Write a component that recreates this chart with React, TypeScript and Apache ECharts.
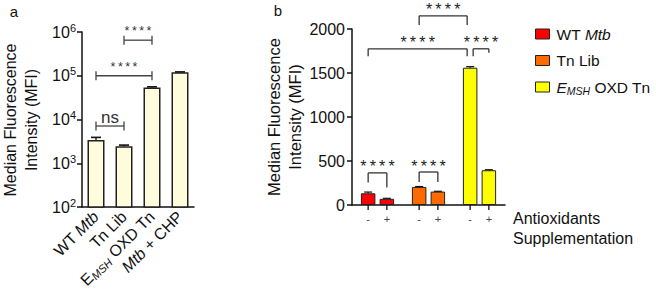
import React, { useEffect, useRef } from 'react';
import * as echarts from 'echarts';

const FONT = '"Liberation Sans", Arial, Helvetica, sans-serif';
const TS = '\u2009';

// ---------- Panel a ----------
const catsA = ['WT Mtb', 'Tn Lib', 'EMSH OXD Tn', 'Mtb + CHP'];
const labelsA = ['WT {i|Mtb}', 'Tn Lib', 'E{sub|MSH} OXD Tn', '{i|Mtb} + CHP'];
const valuesA = [3400, 2450, 54000, 120000];
const errorsA = [500, 150, 1800, 2500];
const STARS = ['*', '*', '*', '*'].join(TS);
const bracketsA = [
  { from: 0, to: 1, y: 7100, text: 'ns', size: 17 },
  { from: 0, to: 2, y: 100000, text: STARS, size: 12.5 },
  { from: 1, to: 2, y: 650000, text: STARS, size: 12.5 },
];

// ---------- Panel b ----------
const groupsB = ['WT Mtb', 'Tn Lib', 'EMSH OXD Tn'];
const legendLabelsB = ['WT {i|Mtb}', 'Tn Lib', '{i|E}{sub|MSH} OXD Tn'];
const colorsB = ['#FF0000', '#FF6A00', '#FFFF00'];
const treatB = ['-', '+'];
const valuesMinus = [133, 205, 1560];
const valuesPlus = [70, 152, 395];
const errMinus = [14, 5, 12];
const errPlus = [6, 4, 6];
const bracketsB = [
  { from: [0, 0], to: [0, 1], y: 365, legs: [255, 200], text: STARS, nudge: [0, 0] },
  { from: [1, 0], to: [1, 1], y: 375, legs: [262, 262], text: STARS, nudge: [0, 0] },
  { from: [0, 0], to: [2, 0], y: 1775, legs: [1690, 1690], text: STARS, nudge: [0, -3] },
  { from: [2, 0], to: [2, 1], y: 1775, legs: [1690, 1730], text: STARS, nudge: [3, 0] },
  { from: [1, 0], to: [2, 0], y: 2150, legs: [2045, 2045], text: STARS, nudge: [0, -3] },
];

const BW = 14.5;
const GAP = 4.2;
const OFF = (BW + GAP) / 2;

const AXIS = { color: '#111', width: 1.5 };

function txt(text: string, x: number, y: number, size: number, fill: string, align = 'center', valign = 'middle', extra: any = {}) {
  return {
    type: 'text',
    x,
    y,
    style: {
      text,
      fill,
      textFill: fill,
      fontSize: size,
      fontFamily: FONT,
      align,
      verticalAlign: valign,
      textAlign: align,
      textVerticalAlign: valign,
      ...extra,
    },
  };
}

function buildOption() {
  const errDataA = valuesA.map((v, i) => [i, v, v + errorsA[i]]);
  const bracketDataA = bracketsA.map((b, i) => [b.from, i, b.y]);
  const slotData: number[][] = [];
  groupsB.forEach((_, g) => {
    slotData.push([g, 0, valuesMinus[g], valuesMinus[g] + errMinus[g]]);
    slotData.push([g, 1, valuesPlus[g], valuesPlus[g] + errPlus[g]]);
  });
  const bracketDataB = bracketsB.map((b, i) => [b.from[0], i, b.y]);

  const slotX = (api: any, g: number, s: number) => api.coord([g, 0])[0] + (s === 0 ? -OFF : OFF);

  return {
    animation: false,
    textStyle: { fontFamily: FONT, color: '#111' },
    grid: [
      { left: 82, top: 32, width: 112, height: 175 },
      { left: 352, top: 29, width: 153, height: 176 },
    ],
    legend: {
      orient: 'vertical',
      left: 530,
      top: 19,
      itemWidth: 14,
      itemHeight: 10,
      itemGap: 6.5,
      icon: 'rect',
      data: groupsB.map((n, i) => ({
        name: n,
        icon: 'rect',
        itemStyle: { color: colorsB[i], borderColor: '#222', borderWidth: 1 },
      })),
      formatter: (name: string) => legendLabelsB[groupsB.indexOf(name)],
      textStyle: {
        fontSize: 15.5,
        color: '#111',
        fontFamily: FONT,
        lineHeight: 20,
        padding: [0, 0, 0, 2],
        rich: {
          i: { fontSize: 15.5, fontStyle: 'italic', fontFamily: FONT, color: '#111' },
          sub: { fontSize: 10.5, fontStyle: 'italic', fontFamily: FONT, color: '#111', padding: [7, 0, 0, 0], lineHeight: 12 },
        },
      },
    },
    xAxis: [
      {
        type: 'category',
        gridIndex: 0,
        data: catsA,
        axisLine: { lineStyle: AXIS },
        axisTick: { alignWithLabel: true, length: 5, lineStyle: AXIS },
        axisLabel: {
          rotate: 45,
          margin: 7,
          fontSize: 16,
          color: '#111',
          fontFamily: FONT,
          interval: 0,
          formatter: (_v: string, i: number) => labelsA[i],
          rich: {
            i: { fontSize: 16, fontStyle: 'italic', fontFamily: FONT, color: '#111' },
            sub: { fontSize: 11, fontStyle: 'italic', fontFamily: FONT, color: '#111', padding: [7, 0, 0, 0], lineHeight: 12 },
          },
        },
      },
      {
        type: 'category',
        gridIndex: 1,
        data: groupsB,
        axisLine: { lineStyle: AXIS },
        axisTick: { show: false },
        axisLabel: { show: false },
      },
    ],
    yAxis: [
      {
        type: 'log',
        logBase: 10,
        gridIndex: 0,
        min: 100,
        max: 1000000,
        axisLine: { show: true, lineStyle: AXIS },
        axisTick: { show: true, length: 5, lineStyle: AXIS },
        splitLine: { show: false },
        axisLabel: {
          margin: 6,
          fontSize: 16,
          color: '#111',
          fontFamily: FONT,
          formatter: (v: number) => `{b|10}{s|${Math.round(Math.log10(v))}}`,
          rich: {
            b: { fontSize: 16, fontFamily: FONT, color: '#111' },
            s: { fontSize: 11, fontFamily: FONT, color: '#111', padding: [0, 0, 9, 0], lineHeight: 12 },
          },
        },
      },
      {
        type: 'value',
        gridIndex: 1,
        min: 0,
        max: 2000,
        interval: 500,
        axisLine: { show: true, lineStyle: AXIS },
        axisTick: { show: true, length: 5, lineStyle: AXIS },
        splitLine: { show: false },
        axisLabel: { margin: 7, fontSize: 16, color: '#111', fontFamily: FONT, formatter: (v: number) => String(v) },
      },
    ],
    series: [
      {
        type: 'bar',
        xAxisIndex: 0,
        yAxisIndex: 0,
        data: valuesA,
        barWidth: 17,
        itemStyle: { color: '#FFFCDC', borderColor: '#222', borderWidth: 1.5 },
      },
      {
        type: 'custom',
        xAxisIndex: 0,
        yAxisIndex: 0,
        data: errDataA,
        encode: { x: 0, y: [1, 2] },
        z: 5,
        renderItem: (_p: any, api: any) => {
          const i = api.value(0);
          const p0 = api.coord([i, api.value(1)]);
          const p1 = api.coord([i, api.value(2)]);
          return {
            type: 'group',
            children: [
              { type: 'line', shape: { x1: p0[0], y1: p0[1], x2: p1[0], y2: p1[1] }, style: { stroke: '#111', lineWidth: 1.3 } },
              { type: 'line', shape: { x1: p1[0] - 5, y1: p1[1], x2: p1[0] + 5, y2: p1[1] }, style: { stroke: '#111', lineWidth: 1.6 } },
            ],
          };
        },
      },
      {
        type: 'custom',
        xAxisIndex: 0,
        yAxisIndex: 0,
        data: bracketDataA,
        encode: { x: 0, y: 2 },
        z: 5,
        clip: false,
        renderItem: (p: any, api: any) => {
          const b = bracketsA[p.dataIndex];
          const a1 = api.coord([b.from, b.y]);
          const a2 = api.coord([b.to, b.y]);
          const st = { stroke: '#444', lineWidth: 1.3 };
          return {
            type: 'group',
            children: [
              { type: 'line', shape: { x1: a1[0], y1: a1[1], x2: a2[0], y2: a2[1] }, style: st },
              { type: 'line', shape: { x1: a1[0], y1: a1[1] - 4.5, x2: a1[0], y2: a1[1] + 4.5 }, style: st },
              { type: 'line', shape: { x1: a2[0], y1: a2[1] - 4.5, x2: a2[0], y2: a2[1] + 4.5 }, style: st },
              txt(b.text, (a1[0] + a2[0]) / 2, a1[1] - 9, b.size, '#333'),
            ],
          };
        },
      },
      {
        type: 'bar',
        name: 'minus',
        xAxisIndex: 1,
        yAxisIndex: 1,
        data: valuesMinus,
        barWidth: BW,
        barGap: `${(GAP / BW) * 100}%`,
        itemStyle: { color: (p: any) => colorsB[p.dataIndex], borderColor: '#222', borderWidth: 1 },
      },
      {
        type: 'bar',
        name: 'plus',
        xAxisIndex: 1,
        yAxisIndex: 1,
        data: valuesPlus,
        barWidth: BW,
        barGap: `${(GAP / BW) * 100}%`,
        itemStyle: { color: (p: any) => colorsB[p.dataIndex], borderColor: '#222', borderWidth: 1 },
      },
      {
        type: 'custom',
        xAxisIndex: 1,
        yAxisIndex: 1,
        data: slotData,
        encode: { x: 0, y: [2, 3] },
        z: 5,
        clip: false,
        renderItem: (_p: any, api: any) => {
          const g = api.value(0);
          const s = api.value(1);
          const x = slotX(api, g, s);
          const y0 = api.coord([g, 0])[1];
          const yv = api.coord([g, api.value(2)])[1];
          const yt = api.coord([g, api.value(3)])[1];
          const st = { stroke: '#111', lineWidth: 1.2 };
          return {
            type: 'group',
            children: [
              { type: 'line', shape: { x1: x, y1: yv, x2: x, y2: yt }, style: st },
              { type: 'line', shape: { x1: x - 4, y1: yt, x2: x + 4, y2: yt }, style: st },
              { type: 'line', shape: { x1: x, y1: y0, x2: x, y2: y0 + 5 }, style: { stroke: '#111', lineWidth: 1.3 } },
              txt(treatB[s], x, y0 + 14, 11, '#444'),
            ],
          };
        },
      },
      {
        type: 'custom',
        xAxisIndex: 1,
        yAxisIndex: 1,
        data: bracketDataB,
        encode: { x: 0, y: 2 },
        z: 5,
        clip: false,
        renderItem: (p: any, api: any) => {
          const b = bracketsB[p.dataIndex];
          const x1 = slotX(api, b.from[0], b.from[1]) + b.nudge[0];
          const x2 = slotX(api, b.to[0], b.to[1]) + b.nudge[1];
          const y = api.coord([0, b.y])[1];
          const l1 = api.coord([0, b.legs[0]])[1];
          const l2 = api.coord([0, b.legs[1]])[1];
          const st = { stroke: '#333', lineWidth: 1.3 };
          return {
            type: 'group',
            children: [
              { type: 'line', shape: { x1, y1: y, x2, y2: y }, style: st },
              { type: 'line', shape: { x1, y1: y, x2: x1, y2: l1 }, style: st },
              { type: 'line', shape: { x1: x2, y1: y, x2, y2: l2 }, style: st },
              txt(b.text, (x1 + x2) / 2, y - 6, 16, '#222'),
            ],
          };
        },
      },
      ...groupsB.map((n, i) => ({
        type: 'line',
        name: n,
        xAxisIndex: 1,
        yAxisIndex: 1,
        data: [],
        itemStyle: { color: colorsB[i] },
      })),
    ],
    graphic: [
      txt('a', 14, 11, 15, '#111'),
      txt('b', 278, 10, 15, '#111'),
      { ...txt('Median Fluorescence\nIntensity (MFI)', 21, 120, 16, '#111', 'center', 'middle', { lineHeight: 21 }), rotation: Math.PI / 2 },
      { ...txt('Median Fluorescence\nIntensity (MFI)', 284.5, 117, 16.5, '#111', 'center', 'middle', { lineHeight: 21 }), rotation: Math.PI / 2 },
      txt('Antioxidants\nSupplementation', 513, 208, 16, '#111', 'left', 'top', { lineHeight: 20 }),
    ],
  };
}

export default function App() {
  const ref = useRef<HTMLDivElement>(null);
  useEffect(() => {
    if (!ref.current) return;
    const chart = echarts.init(ref.current, null, { renderer: 'svg' });
    chart.setOption(buildOption() as any);
    return () => chart.dispose();
  }, []);
  return <div ref={ref} style={{ position: 'fixed', left: 0, top: 0, width: 656, height: 298, background: '#fff' }} />;
}
